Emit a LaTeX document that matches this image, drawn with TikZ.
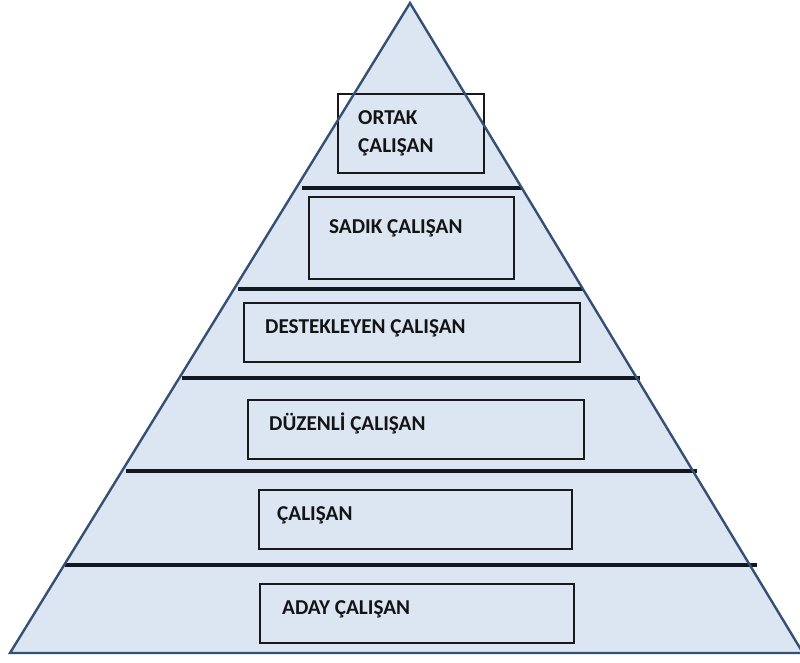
\documentclass[tikz,border=0pt]{standalone}
\usepackage{fontspec}
\setmainfont{Carlito}
\usetikzlibrary{positioning}
\definecolor{pyrfill}{RGB}{220,230,242}
\definecolor{pyredge}{RGB}{52,80,116}
\definecolor{tierline}{RGB}{18,24,34}
\tikzstyle{tier}=[draw=tierline, line width=3.4pt]
\tikzstyle{frame}=[rectangle, draw=black!90, line width=1.8pt, anchor=north west, inner sep=0pt]
\tikzstyle{caption}=[anchor=base west, inner sep=0pt, text=black!92, font=\bfseries\fontsize{21.2}{24}\selectfont]

\begin{document}
\begin{tikzpicture}[x=1pt, y=-1pt]
    \useasboundingbox (0,0) rectangle (800,662);
    \clip (0,0) rectangle (800,662);

    % pyramid
    \coordinate (apex) at (410,3);
    \coordinate (bl) at (10,653);
    \coordinate (br) at (803,653);
    \fill[pyrfill] (apex) -- (bl) -- (br) -- cycle;

    % tier separators
    \foreach \y/\xa/\xb in {188/302/522, 289/238/583, 378/182/640, 471/126/697, 565/65/757}
        \draw[tier] (\xa,\y) -- (\xb,\y);

    % boxes
    \node[frame, minimum width=146, minimum height=79] (ortakbox) at (337,93) {};
    \node[frame, minimum width=205, minimum height=82] (sadikbox) at (308,196) {};
    \node[frame, minimum width=336, minimum height=59] (destekbox) at (243,302) {};
    \node[frame, minimum width=336, minimum height=59] (duzenbox) at (247,399) {};
    \node[frame, minimum width=313, minimum height=59] (calisbox) at (258,489) {};
    \node[frame, minimum width=314, minimum height=59] (adaybox) at (259,583) {};

    \draw[pyredge, line width=2.4pt, line join=miter] (apex) -- (bl) -- (br) -- cycle;

    % labels
    \node[caption] (ortak1) at (358,124) {ORTAK};
    \node[caption] (ortak2) at (358,152) {ÇALIŞAN};
    \node[caption] (sadik) at (329,233) {SADIK ÇALIŞAN};
    \node[caption] (destek) at (265,333) {DESTEKLEYEN ÇALIŞAN};
    \node[caption] (duzen) at (269,430) {DÜZENLİ ÇALIŞAN};
    \node[caption] (calis) at (277,520) {ÇALIŞAN};
    \node[caption] (aday) at (282,614) {ADAY ÇALIŞAN};
\end{tikzpicture}
\end{document}
